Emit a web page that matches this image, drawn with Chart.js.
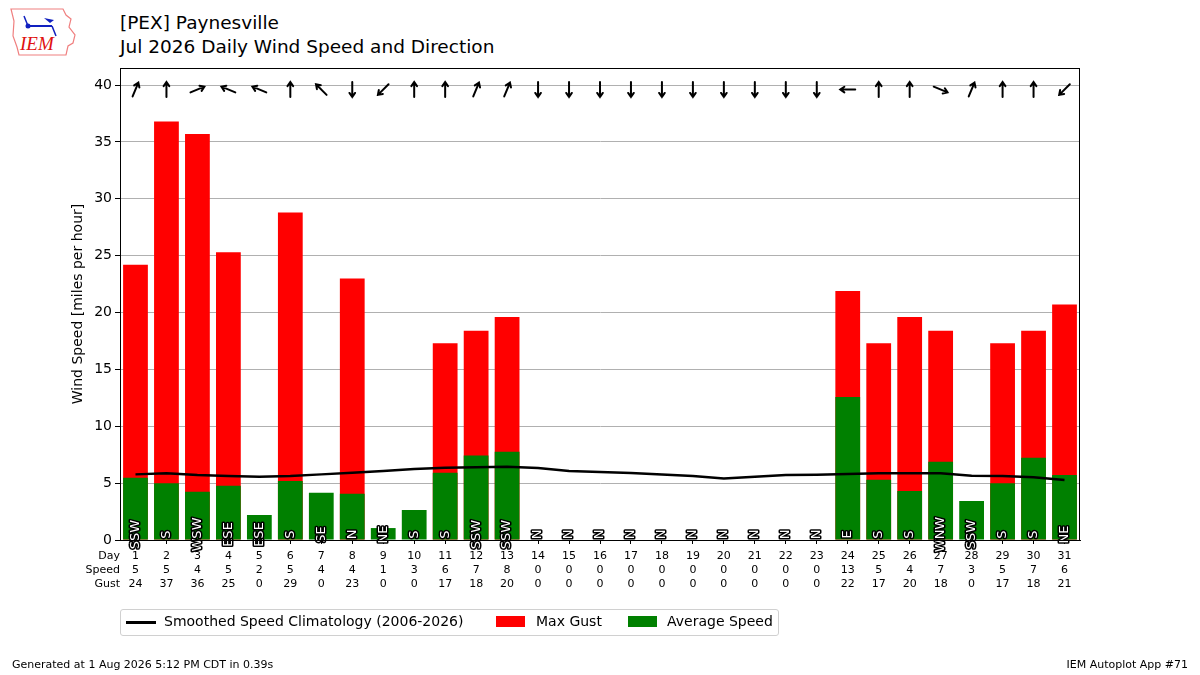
<!DOCTYPE html>
<html>
<head>
<meta charset="utf-8">
<script src="https://cdn.jsdelivr.net/npm/chart.js@4"></script>
<style>
    body { margin: 0; background: #fff; font-family: "DejaVu Sans", sans-serif; }
    #wrap { position: relative; width: 1200px; height: 675px; overflow: hidden; }
    #chart { position: absolute; left: 0; top: 0; }
    .title { position: absolute; left: 120px; font-size: 18.5px; color: #000; white-space: nowrap; }
    .foot { position: absolute; top: 658px; font-size: 11px; color: #000; white-space: nowrap; }
    #legend { position: absolute; left: 120px; top: 609px; width: 657px; height: 25px; border: 1px solid #d0d0d0; border-radius: 3px; font-size: 14px; }
    #legend span { position: absolute; top: 3px; white-space: nowrap; }
    #legend i { position: absolute; display: block; }
</style>
</head>
<body>
<div id="wrap">
    <svg style="position:absolute;left:8px;top:6px" width="72" height="52" viewBox="0 0 72 52">
        <polygon points="3,3 55,3 58,9 63,13 61,21 67,29 65,37 60,40 58,49 11,49 9,41 5,30 6,15" fill="#fff" stroke="#f08080" stroke-width="1.2"/>
        <line x1="20" y1="20" x2="44" y2="20" stroke="#1020c0" stroke-width="2"/>
        <line x1="16" y1="10" x2="20" y2="20" stroke="#1020c0" stroke-width="1.5"/>
        <circle cx="20" cy="20" r="2.5" fill="#1020c0"/>
        <polygon points="36,12 46,14 42,17" fill="#1020c0"/>
        <line x1="44" y1="20" x2="48" y2="30" stroke="#1020c0" stroke-width="1.5"/>
        <text x="12" y="44" font-family="Liberation Serif, serif" font-style="italic" font-size="19" fill="#e01010">IEM</text>
    </svg>
    <div class="title" style="top:12px">[PEX] Paynesville</div>
    <div class="title" style="top:36px">Jul 2026 Daily Wind Speed and Direction</div>
    <canvas id="chart" width="1200" height="675"></canvas>
    <div id="legend">
        <i style="left:5px;top:11px;width:30px;height:3px;background:#000"></i>
        <span style="left:43px">Smoothed Speed Climatology (2006-2026)</span>
        <i style="left:375px;top:6px;width:29px;height:11px;background:#ff0000"></i>
        <span style="left:415px">Max Gust</span>
        <i style="left:507px;top:6px;width:29px;height:11px;background:#008000"></i>
        <span style="left:546px">Average Speed</span>
    </div>
    <div class="foot" style="left:12px">Generated at 1 Aug 2026 5:12 PM CDT in 0.39s</div>
    <div class="foot" style="right:12px">IEM Autoplot App #71</div>
</div>
<script>
// July 2026 daily values, mph
const days = ['1','2','3','4','5','6','7','8','9','10','11','12','13','14','15','16',
    '17','18','19','20','21','22','23','24','25','26','27','28','29','30','31'];
const avgSpeed = [5.48, 4.98, 4.25, 4.78, 2.20, 5.19, 4.16, 4.07, 1.05, 2.64, 5.92, 7.44, 7.77,
    0, 0, 0, 0, 0, 0, 0, 0, 0, 0,
    12.57, 5.30, 4.31, 6.89, 3.43, 4.98, 7.24, 5.71];
const maxGust = [24.2, 36.8, 35.7, 25.3, 0, 28.8, 0, 23.0, 0, 0, 17.3, 18.4, 19.6,
    0, 0, 0, 0, 0, 0, 0, 0, 0, 0,
    21.9, 17.3, 19.6, 18.4, 0, 17.3, 18.4, 20.7];
const climo = [5.77, 5.86, 5.71, 5.63, 5.57, 5.63, 5.77, 5.92, 6.07, 6.24, 6.36, 6.39, 6.45,
    6.33, 6.07, 5.98, 5.90, 5.76, 5.63, 5.40, 5.57, 5.71, 5.74, 5.80, 5.86, 5.86, 5.86,
    5.65, 5.63, 5.51, 5.27];
const directions = ['SSW','S','WSW','ESE','ESE','S','SE','N','NE','S','S','SSW','SSW',
    'N','N','N','N','N','N','N','N','N','N','E','S','S','WNW','SSW','S','S','NE'];
// table rows under the axis
const speedLabels = ['5','5','4','5','2','5','4','4','1','3','6','7','8','0','0','0',
    '0','0','0','0','0','0','0','13','5','4','7','3','5','7','6'];
const gustLabels = ['24','37','36','25','0','29','0','23','0','0','17','18','20','0','0','0',
    '0','0','0','0','0','0','0','22','17','20','18','0','17','18','21'];
const rowNames = ['Day', 'Speed', 'Gust'];
const yTicks = [0, 5, 10, 15, 20, 25, 30, 35, 40];

const compass = ['N','NNE','NE','ENE','E','ESE','SE','SSE','S','SSW','SW','WSW','W','WNW','NW','NNW'];
const FONT = '"DejaVu Sans", sans-serif';
const X_TICK_LEN = 4, X_TICK_PAD = 5.5, X_LINE_H = 13.75;

const windPlugin = {
    id: 'wind',
    afterDatasetsDraw(chart) {
        const ctx = chart.ctx, xs = chart.scales.x, ys = chart.scales.y;
        const top = ys.getPixelForValue(yTicks[yTicks.length - 1]) + 4.5;
        const base = ys.getPixelForValue(0);
        directions.forEach((d, i) => {
            const x = xs.getPixelForValue(i);
            // arrow points where the wind blows to
            const ang = (compass.indexOf(d) * 22.5 + 180) * Math.PI / 180;
            const dx = Math.sin(ang), dy = -Math.cos(ang);
            const half = 7.5, head = 5;
            const x2 = x + dx * half, y2 = top + dy * half;
            ctx.save();
            ctx.strokeStyle = '#000';
            ctx.lineWidth = 2;
            ctx.lineCap = 'round';
            ctx.beginPath();
            ctx.moveTo(x - dx * half, top - dy * half);
            ctx.lineTo(x2, y2);
            const a = Math.atan2(dy, dx);
            ctx.moveTo(x2 - head * Math.cos(a - 0.6), y2 - head * Math.sin(a - 0.6));
            ctx.lineTo(x2, y2);
            ctx.lineTo(x2 - head * Math.cos(a + 0.6), y2 - head * Math.sin(a + 0.6));
            ctx.stroke();
            ctx.restore();

            // rotated compass label in the bar
            ctx.save();
            ctx.translate(x, base - 5.5);
            ctx.rotate(-Math.PI / 2);
            ctx.font = '13px ' + FONT;
            ctx.textAlign = 'center';
            ctx.textBaseline = 'middle';
            ctx.lineJoin = 'round';
            ctx.lineWidth = 3;
            ctx.strokeStyle = '#000';
            ctx.strokeText(d, 0, 0);
            ctx.fillStyle = '#fff';
            ctx.fillText(d, 0, 0);
            ctx.restore();
        });
    },
    afterDraw(chart) {
        const ctx = chart.ctx, a = chart.chartArea;
        ctx.save();
        ctx.strokeStyle = '#000';
        ctx.lineWidth = 1;
        ctx.strokeRect(a.left + 0.5, a.top + 0.5, a.right - a.left - 1, a.bottom - a.top);
        ctx.font = '11px ' + FONT;
        ctx.fillStyle = '#000';
        ctx.textAlign = 'right';
        ctx.textBaseline = 'middle';
        const y0 = a.bottom + X_TICK_LEN + X_TICK_PAD + X_LINE_H / 2;
        rowNames.forEach((n, k) => ctx.fillText(n, a.left, y0 + k * X_LINE_H));
        ctx.restore();
    }
};

new Chart(document.getElementById('chart'), {
    type: 'bar',
    data: {
        labels: days.map((d, i) => [d, speedLabels[i], gustLabels[i]]),
        datasets: [
            {
                type: 'line',
                label: 'Smoothed Speed Climatology (2006-2026)',
                data: climo,
                borderColor: '#000',
                borderWidth: 2.5,
                pointRadius: 0,
                tension: 0,
                order: 0
            },
            {
                label: 'Average Speed',
                data: avgSpeed,
                backgroundColor: '#008000',
                grouped: false,
                barPercentage: 0.8,
                categoryPercentage: 1.0,
                order: 1
            },
            {
                label: 'Max Gust',
                data: maxGust,
                backgroundColor: '#ff0000',
                grouped: false,
                barPercentage: 0.8,
                categoryPercentage: 1.0,
                order: 2
            }
        ]
    },
    options: {
        responsive: false,
        animation: false,
        devicePixelRatio: 1,
        layout: { padding: { left: 66, top: 68, right: 120, bottom: 0 } },
        plugins: { legend: { display: false }, tooltip: { enabled: false } },
        scales: {
            x: {
                offset: true,
                grid: { drawOnChartArea: false, offset: false, tickLength: X_TICK_LEN, tickColor: '#000' },
                border: { color: '#000' },
                ticks: {
                    color: '#000', autoSkip: false, maxRotation: 0, padding: X_TICK_PAD,
                    font: { family: FONT, size: 11, lineHeight: X_LINE_H / 11 }
                },
                afterFit: s => { s.height = 135; }
            },
            y: {
                min: 0,
                max: 41.5,
                afterBuildTicks: s => { s.ticks = yTicks.map(v => ({ value: v })); },
                grid: { color: '#b0b0b0', tickColor: '#000', tickLength: 5 },
                border: { color: '#000' },
                ticks: { color: '#000', padding: 3, font: { family: FONT, size: 14 } },
                title: {
                    display: true, text: 'Wind Speed [miles per hour]', color: '#000',
                    padding: { top: 4, bottom: 0 }, font: { family: FONT, size: 14 }
                },
                afterFit: s => { s.width = 54; }
            }
        }
    },
    plugins: [windPlugin]
});
</script>
</body>
</html>
